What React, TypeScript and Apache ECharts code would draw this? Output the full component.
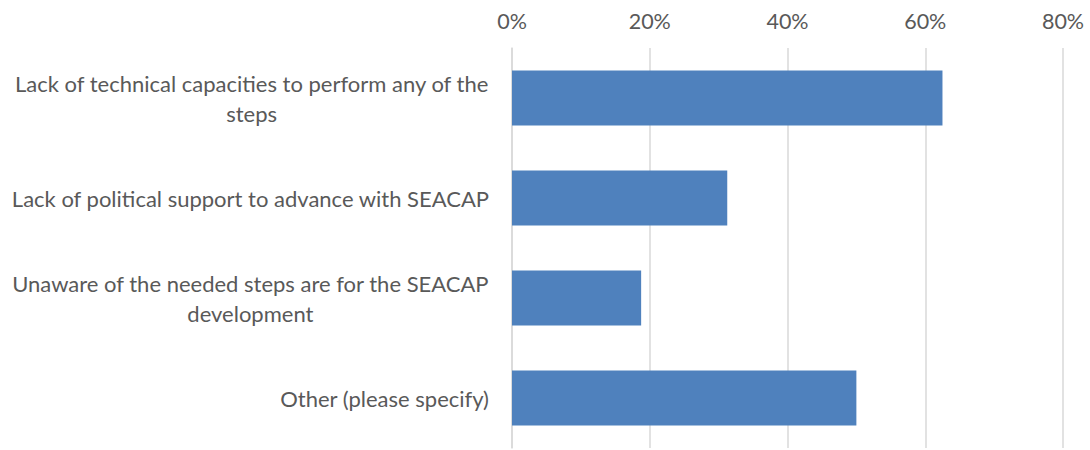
import React, { useEffect, useRef } from "react";
import * as echarts from "echarts";

const categories: string[] = [
  "Lack of technical capacities to perform any of the\nsteps",
  "Lack of political support to advance with SEACAP",
  "Unaware of the needed steps are for the SEACAP\ndevelopment",
  "Other (please specify)",
];
const values: number[] = [0.625, 0.3125, 0.1875, 0.5];
const tickMax = 0.8;
const tickStep = 0.2;

export default function App() {
  const ref = useRef<HTMLDivElement>(null);
  useEffect(() => {
    if (!ref.current) return;
    const chart = echarts.init(ref.current, undefined, { renderer: "svg" });
    const font = "Lato, 'Open Sans', sans-serif";
    chart.setOption({
      animation: false,
      grid: { left: 512, right: 27, top: 48, bottom: 2, containLabel: false },
      xAxis: {
        type: "value",
        position: "top",
        min: 0,
        max: tickMax,
        interval: tickStep,
        axisLine: { show: false },
        axisTick: { show: false },
        splitLine: { show: true, lineStyle: { color: "#d9d9d9", width: 1.5 } },
        axisLabel: {
          margin: 16,
          color: "#595959",
          fontSize: 21.5,
          fontFamily: font,
          formatter: (v: number) => `${Math.round(v * 100)}%`,
        },
      },
      yAxis: {
        type: "category",
        inverse: true,
        data: categories,
        axisLine: { show: true, lineStyle: { color: "#d9d9d9", width: 1.5 } },
        axisTick: { show: false },
        axisLabel: {
          margin: 23,
          color: "#595959",
          fontSize: 22,
          fontFamily: font,
          align: "right",
          lineHeight: 30,
          formatter: (v: string) =>
            v.indexOf("\n") >= 0
              ? v.split("\n").map((l) => `{c|${l}}`).join("\n")
              : v,
          rich: {
            c: {
              align: "center",
              color: "#595959",
              fontSize: 22,
              fontFamily: font,
              lineHeight: 30,
            },
          },
        },
      },
      series: [
        {
          type: "bar",
          data: values,
          barCategoryGap: "45%",
          itemStyle: { color: "#4F81BD" },
        },
      ],
    });
    return () => chart.dispose();
  }, []);
  return (
    <div
      ref={ref}
      style={{ position: "fixed", left: 0, top: 0, width: 1090, height: 450, background: "#fff" }}
    />
  );
}
